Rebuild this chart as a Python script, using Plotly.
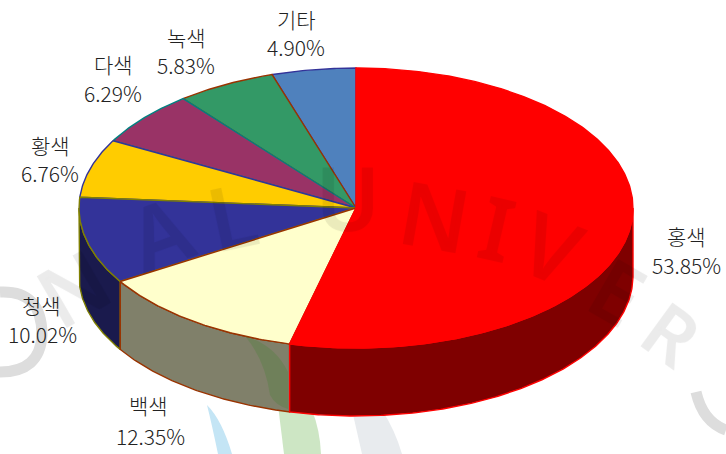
import math
import plotly.graph_objects as go

categories = ["홍색", "백색", "청색", "황색", "다색", "녹색", "기타"]
values = [53.85, 12.35, 10.02, 6.76, 6.29, 5.83, 4.90]
top_colors = ["#FF0000", "#FFFFCC", "#333399", "#FFCC00", "#993366", "#339966", "#4F81BD"]
side_colors = ["#7F0000", "#80806A", "#1A1A4D", "#806600", "#4D1A33", "#1A4D33", "#28415F"]
edge_colors = ["#FF0000", "#993300", "#808000", "#333399", "#008080", "#993300", "#333399"]
name_pos = [(686, 236), (148, 405), (41, 305), (50, 145), (113, 64), (186, 37), (296, 19)]
pct_pos = [(686, 265), (150, 436), (42, 334), (50, 173), (113, 93), (186, 65), (296, 47)]

# Blurred watermark behind and over the chart
wm_letters = ["N", "A", "L", "U", "N", "I", "V", "E", "R"]
wm_x = [72, 160, 232, 348, 435, 497, 552, 618, 672]
wm_y = [287, 232, 215, 197, 215, 227, 247, 290, 332]
wm_rot = [-30, -20, -12, 0, 10, 13, 22, 30, 36]
wm_size = [84, 88, 88, 88, 88, 88, 88, 84, 76]

CX, CY, A, B, DEPTH = 356, 208, 277, 140, 68
FONT = "Noto Sans CJK KR"


def rim(t, drop=0):
    a = math.radians(t)
    return CX + A * math.sin(a), CY - B * math.cos(a) + drop


def arc(t0, t1, drop=0):
    n = max(2, int(abs(t1 - t0) * 2))
    return [rim(t0 + (t1 - t0) * i / n, drop) for i in range(n + 1)]


def add_poly(fig, pts, fill, edge, width=1.4):
    fig.add_trace(go.Scatter(
        x=[p[0] for p in pts], y=[p[1] for p in pts], mode="lines",
        fill="toself", fillcolor=fill, line=dict(color=edge, width=width),
        hoverinfo="skip", showlegend=False))


total = sum(values)
angles = [0]
for v in values:
    angles.append(angles[-1] + v / total * 360)

fig = go.Figure()
order = list(range(len(values)))[::-1]
for i in order:
    t0, t1 = angles[i], angles[i + 1]
    lo, hi = max(t0, 90), min(t1, 270)
    if lo < hi:
        add_poly(fig, arc(lo, hi) + arc(hi, lo, DEPTH) + [rim(lo)],
                 side_colors[i], edge_colors[i])
for i in order:
    t0, t1 = angles[i], angles[i + 1]
    add_poly(fig, [(CX, CY)] + arc(t0, t1) + [(CX, CY)],
             top_colors[i], edge_colors[i])

annotations = []
for ch, x, y, r, s in zip(wm_letters, wm_x, wm_y, wm_rot, wm_size):
    annotations.append(dict(
        x=x, y=y, xref="x", yref="y", showarrow=False, text=ch, textangle=r,
        font=dict(family="Noto Sans", size=s, weight=600, color="rgba(0,0,0,0.07)",
                  shadow="0 0 4px rgba(0,0,0,0.16)")))
for name, v, (nx, ny), (px, py) in zip(categories, values, name_pos, pct_pos):
    annotations.append(dict(x=nx, y=ny, xref="x", yref="y", showarrow=False, text=name,
                            font=dict(family=FONT, size=21, weight=300, color="#222222")))
    annotations.append(dict(x=px, y=py, xref="x", yref="y", showarrow=False, text=f"{v:.2f}%",
                            font=dict(family=FONT, size=21, weight=300, color="#222222")))

shapes = [
    dict(type="path", layer="below", line_width=0, fillcolor="#C4E5F5",
         path="M 207 405 Q 222 420 232 454 L 218 454 Q 212 425 207 405 Z"),
    dict(type="path", layer="below", line_width=0, fillcolor="#CDE6C4",
         path="M 278 405 L 312 410 Q 320 430 321 454 L 284 454 Z"),
    dict(type="path", layer="below", line_width=0, fillcolor="#E8EBEE",
         path="M 352 410 L 382 410 Q 395 430 402 454 L 362 454 Z"),
    dict(type="path", layer="above", line_width=0, fillcolor="rgba(70,130,50,0.28)",
         path="M 245 336 Q 275 345 288 372 L 288 409 Q 275 405 270 395 Q 265 360 245 336 Z"),
    dict(type="path", layer="below", line=dict(color="#DDDDDD", width=11),
         path="M 696 392 Q 703 422 726 430"),
    dict(type="path", layer="below", line=dict(color="#DDDDDD", width=11),
         path="M 0 292 Q 42 290 42 335 Q 40 372 0 372"),
]

fig.update_layout(
    width=726, height=454, margin=dict(l=0, r=0, t=0, b=0),
    paper_bgcolor="white", plot_bgcolor="rgba(0,0,0,0)", showlegend=False,
    xaxis=dict(range=[0, 726], visible=False, fixedrange=True),
    yaxis=dict(range=[454, 0], visible=False, fixedrange=True),
    annotations=annotations, shapes=shapes,
)
fig.write_html("out.html", config={"displayModeBar": False},
               post_script="document.body.style.margin='0';document.body.style.overflow='hidden';")
